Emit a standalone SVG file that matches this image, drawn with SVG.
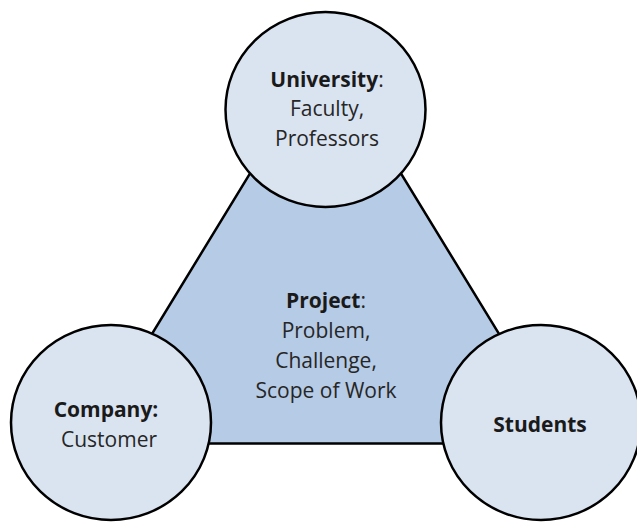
<svg xmlns="http://www.w3.org/2000/svg" width="637" height="525" viewBox="0 0 637 525">
<style>
.c{fill:#DAE3F0;stroke:#000;stroke-width:2.5}
.t{font-family:"Open Sans","Noto Sans","Liberation Sans",sans-serif;font-size:21px;fill:#262626;text-anchor:middle}
.b{font-weight:bold;fill:#1a1a1a}
</style>
<rect width="637" height="525" fill="#fff"/>
<g id="project">
<polygon points="325.5,50 85,443.5 566,443.5" fill="#B6CBE5" stroke="#000" stroke-width="2.5" stroke-linejoin="miter"/>
<text class="t" x="326" y="308"><tspan class="b">Project</tspan>:</text>
<text class="t" x="326" y="338">Problem,</text>
<text class="t" x="326" y="368">Challenge,</text>
<text class="t" x="326" y="398">Scope of Work</text>
</g>
<g id="connectors"></g>
<g id="university">
<ellipse class="c" cx="325.5" cy="109.5" rx="100" ry="97.5"/>
<text class="t" x="327" y="87"><tspan class="b">University</tspan>:</text>
<text class="t" x="327" y="116">Faculty,</text>
<text class="t" x="327" y="146">Professors</text>
</g>
<g id="company">
<ellipse class="c" cx="111" cy="422.5" rx="100" ry="97.5"/>
<text class="t b" x="106" y="417">Company:</text>
<text class="t" x="109" y="447">Customer</text>
</g>
<g id="students">
<ellipse class="c" cx="541" cy="422.5" rx="100" ry="97.5"/>
<text class="t b" x="540" y="432">Students</text>
</g>
</svg>
